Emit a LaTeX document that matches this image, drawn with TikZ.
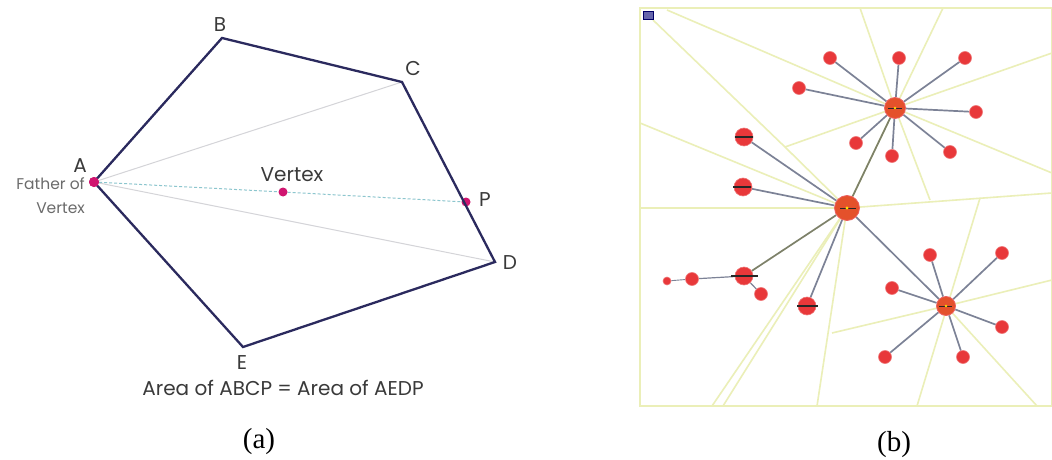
\documentclass[tikz,border=0pt]{standalone}
\usepackage{fontspec}
\setmainfont{Liberation Serif}
\newfontfamily\gothic{Poppins}
\pgfdeclarelayer{bottom}
\pgfdeclarelayer{vor}
\pgfdeclarelayer{edges}
\pgfsetlayers{bottom,vor,edges,main}
\definecolor{polyc}{HTML}{2B2A5E}
\definecolor{dotc}{HTML}{D01570}
\definecolor{guidec}{HTML}{D4D4D8}
\definecolor{cyanc}{HTML}{8CC6CE}
\definecolor{vorc}{HTML}{EBEFB8}
\definecolor{edgec}{HTML}{7C8296}
\definecolor{leafc}{HTML}{E8383A}
\definecolor{hubc}{HTML}{E4512B}
\definecolor{labc}{HTML}{3A3A3A}
\tikzset{
  polyline/.style={draw=polyc, line width=2.3pt, line join=miter},
  guide/.style={draw=guidec, line width=1pt},
  pdot/.style={circle, fill=dotc, inner sep=0pt, minimum size=9pt},
  lab/.style={font=\gothic\fontsize{20}{22}\selectfont, text=labc, inner sep=0pt},
  smalllab/.style={font=\gothic\fontsize{15.5}{24}\selectfont, text=labc!75, inner sep=0pt, align=right},
  captxt/.style={font=\fontsize{29}{32}\selectfont, inner sep=0pt},
  vor/.style={draw=vorc, line width=1.6pt},
  gedge/.style={draw=edgec, line width=1.7pt},
  leaf/.style={circle, fill=leafc, draw=leafc!70, line width=0.6pt, inner sep=0pt, minimum size=13pt},
  bigleaf/.style={circle, fill=leafc, draw=leafc!70, line width=0.6pt, inner sep=0pt, minimum size=18pt},
  hub/.style={circle, fill=hubc, draw=leafc!80, line width=0.8pt, inner sep=0pt, minimum size=#1},
  bar/.style={draw=black!85, line width=1.4pt}
}
\begin{document}
\begin{tikzpicture}[x=1pt,y=-1pt]
\useasboundingbox (0,0) rectangle (1052,460);
\begin{pgfonlayer}{bottom}
\fill[white] (0,0) rectangle (1052,460);
\end{pgfonlayer}
% ---------- panel (a) ----------
\coordinate (A) at (94,182);
\coordinate (B) at (222,38);
\coordinate (C) at (402,82);
\coordinate (D) at (495,262);
\coordinate (E) at (243,347);
\node[pdot, minimum size=10pt] (pA) at (A) {};
\node[pdot] (V) at (283,192) {};
\node[pdot] (P) at (466,202) {};
\begin{pgfonlayer}{edges}
\draw[guide] (A) -- (C);
\draw[guide] (A) -- (D);
\draw[cyanc, line width=1pt, densely dashed] (pA) -- (V) -- (P);
\end{pgfonlayer}
\draw[polyline] (A) -- (B) -- (C) -- (D) -- (E) -- cycle;
\node[pdot, minimum size=10pt] at (A) {};
\node[lab] (lB) at (220,25) {B};
\node[lab] (lC) at (413,68) {C};
\node[lab] (lA) at (80,166) {A};
\node[smalllab, anchor=north east] (lF) at (85,177) {Father of\\Vertex};
\node[lab] (lV) at (292,175) {Vertex};
\node[lab] (lP) at (485,200) {P};
\node[lab] (lD) at (510,263) {D};
\node[lab] (lE) at (242,363) {E};
\node[lab] (lArea) at (283,388) {Area of ABCP = Area of AEDP};
\node[captxt] (ca) at (259,442) {(a)};
% ---------- panel (b) ----------
\begin{pgfonlayer}{vor}
\draw[vorc, line width=1.8pt] (640,8) rectangle (1052,406);
\end{pgfonlayer}
\node[fill=blue!45!black!60, draw=blue!40!black, inner sep=0pt, minimum width=10pt, minimum height=8pt] (sq) at (648,15) {};
% hubs
\node[hub=25pt] (M) at (847,208) {};
\node[hub=21pt] (T) at (895,108) {};
\node[hub=19pt] (R) at (946,306) {};
% top leaves
\node[leaf] (t1) at (830,58) {};
\node[leaf] (t2) at (899,58) {};
\node[leaf] (t3) at (965,58) {};
\node[leaf] (t4) at (799,88) {};
\node[leaf] (t5) at (976,112) {};
\node[leaf] (t6) at (856,143) {};
\node[leaf] (t7) at (892,156) {};
\node[leaf] (t8) at (950,152) {};
% center leaves
\node[bigleaf] (m1) at (744,137) {};
\node[bigleaf] (m2) at (743,187) {};
\node[bigleaf] (m3) at (744,276) {};
\node[bigleaf] (m4) at (807,306) {};
\node[leaf] (s1) at (692,279) {};
\node[leaf, minimum size=8pt] (s2) at (667,281) {};
\node[leaf] (s3) at (761,294) {};
% right leaves
\node[leaf] (r1) at (930,255) {};
\node[leaf] (r2) at (1002,253) {};
\node[leaf] (r3) at (892,288) {};
\node[leaf] (r4) at (1002,327) {};
\node[leaf] (r5) at (885,357) {};
\node[leaf] (r6) at (963,357) {};
% bars
\draw[bar] ([xshift=-9pt]m1.center) -- ([xshift=9pt]m1.center);
\draw[bar] ([xshift=-10pt]m2.center) -- ([xshift=8pt]m2.center);
\draw[bar] ([xshift=-13pt]m3.center) -- ([xshift=14pt]m3.center);
\draw[bar] ([xshift=-10pt]m4.center) -- ([xshift=11pt]m4.center);
\draw[bar, line width=1pt] ([xshift=-7pt]M.center) -- ([xshift=9pt]M.center);
\draw[bar, line width=1pt] ([xshift=-7pt]T.center) -- ([xshift=7pt]T.center);
\draw[bar, line width=1pt] ([xshift=-7pt]R.center) -- ([xshift=6pt]R.center);
\fill[yellow!80!orange] (M.center) circle (1.6pt);
\fill[yellow!80!orange] (T.center) circle (1.3pt);
\fill[yellow!80!orange] (R.center) circle (1.3pt);
% voronoi lines
\begin{pgfonlayer}{vor}
\coordinate (v1) at (667,10);
\coordinate (v2) at (653,20);
\coordinate (v3) at (640,123);
\coordinate (v4) at (640,208);
\coordinate (v5) at (1052,193);
\coordinate (v6) at (785,147);
\coordinate (v7) at (860,8);
\coordinate (v8) at (943,8);
\coordinate (v9) at (1052,53);
\coordinate (v10) at (1052,173);
\coordinate (v11) at (930,200);
\coordinate (v12) at (712,406);
\coordinate (v13) at (723,406);
\coordinate (v14) at (817,406);
\coordinate (v15) at (980,198);
\coordinate (v16) at (917,406);
\coordinate (v17) at (832,333);
\coordinate (v18) at (1052,280);
\coordinate (v19) at (1037,406);
\draw[vor] (v1) -- (T.center);
\draw[vor] (v2) -- (v6) -- (M.center);
\draw[vor] (v3) -- (M.center);
\draw[vor] (v4) -- (M.center) -- (v5);
\draw[vor] (v6) -- (T.center);
\draw[vor] (T.center) -- (v7);
\draw[vor] (T.center) -- (v8);
\draw[vor] (T.center) -- (v9);
\draw[vor] (T.center) -- (v10);
\draw[vor] (T.center) -- (v11);
\draw[vor] (M.center) -- (T.center);
\draw[vor] (M.center) -- (v12);
\draw[vor] (M.center) -- (v13);
\draw[vor] (M.center) -- (v14);
\draw[vor] (v15) -- (v16);
\draw[vor] (v17) -- (R.center) -- (v18);
\draw[vor] (R.center) -- (v19);
\end{pgfonlayer}
% tree edges
\begin{pgfonlayer}{edges}
\foreach \n in {t1,t2,t3,t4,t5,t6,t7,t8} \draw[gedge] (T) -- (\n);
\foreach \n in {r1,r2,r3,r4,r5,r6} \draw[gedge] (R) -- (\n);
\foreach \n in {m1,m2,m4} \draw[gedge] (M) -- (\n);
\draw[gedge, draw=edgec!70!olive] (M) -- (T);
\draw[gedge, draw=edgec!70!olive] (M) -- (m3);
\draw[gedge] (M) -- (R);
\draw[gedge, line width=1.2pt] (m3) -- (s1);
\draw[gedge, line width=0.9pt] (s1) -- (s2);
\draw[gedge, line width=1.2pt] (m3) -- (s3);
\end{pgfonlayer}
\node[captxt] (cb) at (894,445) {(b)};
\end{tikzpicture}
\end{document}
